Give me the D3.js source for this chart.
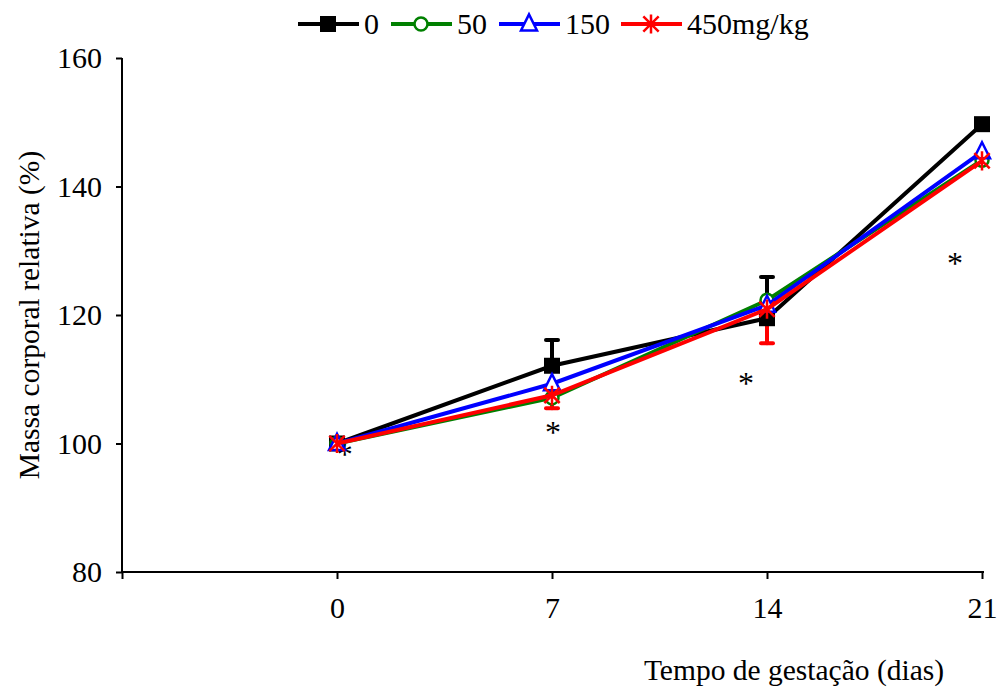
<!DOCTYPE html>
<html>
<head>
<meta charset="utf-8">
<script src="https://cdn.jsdelivr.net/npm/d3@7/dist/d3.min.js"></script>
<style>
  html, body { margin: 0; padding: 0; background: #fff; }
</style>
</head>
<body>
<svg id="chart" width="999" height="691"></svg>
<script>
// ---- data ----
const days = [0, 7, 14, 21];
const xTickValues = [-7, 0, 7, 14, 21];
const xTickLabels = ["", "0", "7", "14", "21"];
const yTickValues = [80, 100, 120, 140, 160];

const seriesNames = ["0", "50", "150", "450mg/kg"];
const seriesColors = ["#000000", "#008000", "#0000ff", "#ff0000"];
const seriesMarkers = ["square", "circle", "triangle", "star"];

const dose0 = [100, 112.1, 119.5, 149.7];
const dose50 = [100, 107.1, 122.3, 144.1];
const dose150 = [100, 109.3, 121.5, 145.4];
const dose450 = [100, 107.5, 120.9, 144.0];

// one-sided error bars (+ upward, - downward)
const err0Up = [0, 4.0, 6.4, 0];
const err450Down = [0, 2.0, 5.3, 0];

// significance asterisks (day position, value)
const starDays = [0.25, 7.03, 13.32, 20.12];
const starValues = [99.1, 102.6, 110.2, 128.9];

// ---- chart ----
const FONT = "'Times New Roman', 'Liberation Serif', 'DejaVu Serif', serif";
const FS = 30;
const FT = 29.5;

const svg = d3.select("#chart");
const x = d3.scaleLinear().domain([-7, 21]).range([122, 982]);
const y = d3.scaleLinear().domain([80, 160]).range([572, 58]);

// axes
const yAxis = d3.axisLeft(y).tickValues(yTickValues).tickSize(6).tickPadding(14);
const gy = svg.append("g").attr("transform", `translate(${x(-7)},0)`).call(yAxis)
  .attr("font-family", FONT).attr("font-size", FS);
gy.select(".domain").attr("stroke", "#000").attr("stroke-width", 2).attr("d", `M0,${y(160)}V${y(80)}`);
gy.selectAll(".tick line").attr("stroke", "#000").attr("stroke-width", 2);
gy.selectAll(".tick text").attr("fill", "#000");

const xAxis = d3.axisBottom(x).tickValues(xTickValues).tickSize(7).tickPadding(18)
  .tickFormat((d, i) => xTickLabels[i]);
const gx = svg.append("g").attr("transform", `translate(0,${y(80)})`).call(xAxis)
  .attr("font-family", FONT).attr("font-size", FS);
gx.select(".domain").attr("stroke", "#000").attr("stroke-width", 2).attr("d", `M${x(-7)},0H${x(21) + 2}`);
gx.selectAll(".tick line").attr("stroke", "#000").attr("stroke-width", 2);
gx.selectAll(".tick text").attr("fill", "#000");

// axis titles
svg.append("text")
  .attr("transform", `translate(39,${(y(80) + y(160)) / 2}) rotate(-90)`)
  .attr("text-anchor", "middle")
  .attr("font-family", FONT).attr("font-size", FT)
  .text("Massa corporal relativa (%)");
svg.append("text")
  .attr("x", 794).attr("y", 680)
  .attr("text-anchor", "middle")
  .attr("font-family", FONT).attr("font-size", FT)
  .text("Tempo de gestação (dias)");

// significance asterisks
svg.append("g").selectAll("text").data(starDays).join("text")
  .attr("x", d => x(d))
  .attr("y", (d, i) => y(starValues[i]) + 16)
  .attr("text-anchor", "middle")
  .attr("font-family", FONT).attr("font-size", 32)
  .text("*");

// marker drawing
function drawMarker(g, type, color, size) {
  if (type === "square") {
    g.append("rect").attr("x", -size / 2).attr("y", -size / 2).attr("width", size).attr("height", size).attr("fill", color);
  } else if (type === "circle") {
    g.append("circle").attr("r", size / 2 - 1.5).attr("fill", "#fff").attr("stroke", color).attr("stroke-width", 2.5);
  } else if (type === "triangle") {
    const s = size;
    g.append("path").attr("d", `M0,${-s * 0.6}L${s * 0.5},${s * 0.4}L${-s * 0.5},${s * 0.4}Z`)
      .attr("fill", "#fff").attr("stroke", color).attr("stroke-width", 2.5).attr("stroke-linejoin", "miter");
  } else if (type === "star") {
    const r = size * 0.6;
    const a = r * 0.8;
    g.append("path").attr("d", `M0,${-r}V${r}M${-a},${-a}L${a},${a}M${-a},${a}L${a},${-a}`)
      .attr("stroke", color).attr("stroke-width", 2.5).attr("fill", "none");
  }
}

const allSeries = [dose0, dose50, dose150, dose450];
const line = d3.line().x((d, i) => x(days[i])).y(d => y(d));

// error bars
function errBars(vals, errs, dir, color) {
  const g = svg.append("g").attr("stroke", color).attr("stroke-width", 4).attr("stroke-linecap", "round");
  vals.forEach((v, i) => {
    if (!errs[i]) return;
    const end = v + dir * errs[i];
    g.append("line").attr("x1", x(days[i])).attr("x2", x(days[i])).attr("y1", y(v)).attr("y2", y(end));
    g.append("line").attr("x1", x(days[i]) - 6).attr("x2", x(days[i]) + 6).attr("y1", y(end)).attr("y2", y(end));
  });
}
errBars(dose0, err0Up, 1, seriesColors[0]);
errBars(dose450, err450Down, -1, seriesColors[3]);

allSeries.forEach((vals, si) => {
  svg.append("path").datum(vals).attr("d", line)
    .attr("fill", "none").attr("stroke", seriesColors[si]).attr("stroke-width", 4).attr("stroke-linejoin", "miter");
  vals.forEach((v, i) => {
    const g = svg.append("g").attr("transform", `translate(${x(days[i])},${y(v)})`);
    drawMarker(g, seriesMarkers[si], seriesColors[si], 16);
  });
});

// legend
const legendLineStart = [298, 391, 499, 621];
const legend = svg.append("g");
seriesNames.forEach((name, i) => {
  const x0 = legendLineStart[i];
  const g = legend.append("g").attr("transform", `translate(${x0},24)`);
  g.append("line").attr("x1", 0).attr("x2", 61).attr("y1", 0).attr("y2", 0)
    .attr("stroke", seriesColors[i]).attr("stroke-width", 4);
  const m = g.append("g").attr("transform", "translate(30,0)");
  drawMarker(m, seriesMarkers[i], seriesColors[i], 16);
  g.append("text").attr("x", 66).attr("y", 10)
    .attr("font-family", FONT).attr("font-size", FS).text(name);
});
</script>
</body>
</html>
